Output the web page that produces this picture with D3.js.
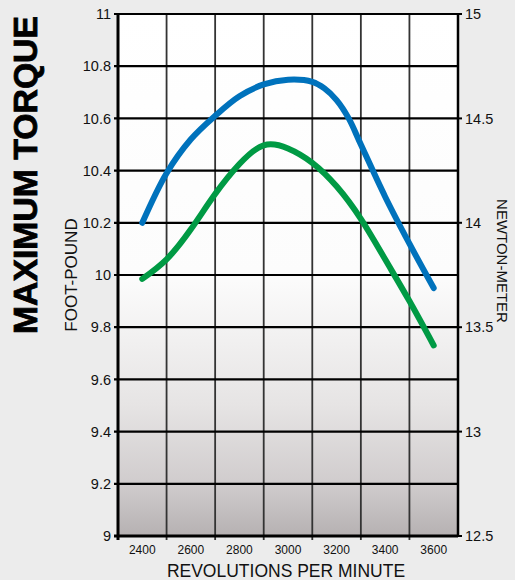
<!DOCTYPE html>
<html><head><meta charset="utf-8">
<script src="https://cdn.jsdelivr.net/npm/d3@7"></script>
<style>html,body{margin:0;padding:0;background:#ececec;}svg{display:block;}</style>
</head><body>
<script>
// ---- data ----
const rpmLabels = [2400, 2600, 2800, 3000, 3200, 3400, 3600];
const rpmGrid = [2300, 2500, 2700, 2900, 3100, 3300, 3500, 3700];
const footPoundTicks = [9, 9.2, 9.4, 9.6, 9.8, 10, 10.2, 10.4, 10.6, 10.8, 11];
const newtonTicks = [12.5, 13, 13.5, 14, 14.5, 15];
const blueRpm = [2400, 2500, 2600, 2700, 2800, 2900, 3000, 3100, 3150, 3200, 3250, 3300, 3400, 3500, 3600];
const blueTorque = [10.20, 10.39, 10.52, 10.61, 10.685, 10.73, 10.748, 10.74, 10.715, 10.67, 10.60, 10.50, 10.30, 10.12, 9.95];
const greenRpm = [2400, 2500, 2600, 2700, 2800, 2900, 3000, 3100, 3200, 3300, 3400, 3500, 3600];
const greenTorque = [9.985, 10.06, 10.175, 10.31, 10.425, 10.497, 10.485, 10.43, 10.34, 10.215, 10.06, 9.90, 9.73];

const W = 515, H = 580;
const L = 118, R = 458, T = 14, B = 536;
const font = "'Liberation Sans', Arial, Helvetica, sans-serif";

const svg = d3.select("body").append("svg").attr("width", W).attr("height", H)
  .style("font-family", font);
svg.append("rect").attr("width", W).attr("height", H).attr("fill", "#ececec");

const x = d3.scaleLinear().domain([2300, 3700]).range([L, R]);
const y = d3.scaleLinear().domain([9, 11]).range([B, T]);
const y2 = d3.scaleLinear().domain([12.5, 15]).range([B, T]);

const defs = svg.append("defs");
const grad = defs.append("linearGradient").attr("id", "bg").attr("x1", 0).attr("y1", 0).attr("x2", 0).attr("y2", 1);
[[0, "#ffffff"], [0.5, "#fcfcfc"], [0.75, "#e6e4e4"], [0.9, "#d0cccd"], [1, "#b6b1b2"]]
  .forEach(([o, c]) => grad.append("stop").attr("offset", o).attr("stop-color", c));

svg.append("rect").attr("x", L).attr("y", T).attr("width", R - L).attr("height", B - T).attr("fill", "url(#bg)");

// vertical grid
svg.append("g").selectAll("line").data(rpmGrid.slice(1, -1)).join("line")
  .attr("x1", d => x(d)).attr("x2", d => x(d)).attr("y1", T).attr("y2", B + 4)
  .attr("stroke", "#333").attr("stroke-width", 1.8);

// horizontal grid
svg.append("g").selectAll("line").data(footPoundTicks).join("line")
  .attr("x1", L - 4).attr("x2", R).attr("y1", d => y(d)).attr("y2", d => y(d))
  .attr("stroke", "#000").attr("stroke-width", d => (d === 9 ? 3 : 2.2));

// left and right frame
svg.append("line").attr("x1", L).attr("x2", L).attr("y1", T - 1).attr("y2", B + 4).attr("stroke", "#000").attr("stroke-width", 3);
svg.append("line").attr("x1", R).attr("x2", R).attr("y1", T - 1).attr("y2", B + 1).attr("stroke", "#000").attr("stroke-width", 2.5);

// right ticks
svg.append("g").selectAll("line").data(newtonTicks).join("line")
  .attr("x1", R).attr("x2", R + 4).attr("y1", d => y2(d)).attr("y2", d => y2(d))
  .attr("stroke", "#000").attr("stroke-width", 2);

// left labels
svg.append("g").selectAll("text").data(footPoundTicks).join("text")
  .attr("x", 111).attr("y", d => y(d)).attr("dy", "0.36em")
  .attr("text-anchor", "end").attr("font-size", 14.5).attr("fill", "#111")
  .text(d => String(+d.toFixed(1)));

// right labels
svg.append("g").selectAll("text").data(newtonTicks).join("text")
  .attr("x", 465).attr("y", d => y2(d)).attr("dy", "0.36em")
  .attr("text-anchor", "start").attr("font-size", 14.5).attr("fill", "#111")
  .text(d => String(d));

// bottom labels
svg.append("g").selectAll("text").data(rpmLabels).join("text")
  .attr("x", d => x(d)).attr("y", 554)
  .attr("text-anchor", "middle").attr("font-size", 12).attr("fill", "#111")
  .text(d => d);

// curves
const greenLine = d3.line().curve(d3.curveNatural);
const blueLine = d3.line().curve(d3.curveCatmullRom.alpha(0.5));
svg.append("path")
  .attr("d", greenLine(greenRpm.map((r, i) => [x(r), y(greenTorque[i])])))
  .attr("fill", "none").attr("stroke", "#009a44").attr("stroke-width", 6).attr("stroke-linecap", "round");
svg.append("path")
  .attr("d", blueLine(blueRpm.map((r, i) => [x(r), y(blueTorque[i])])))
  .attr("fill", "none").attr("stroke", "#0072bc").attr("stroke-width", 6).attr("stroke-linecap", "round");

// titles
svg.append("text").attr("transform", "translate(37,175) rotate(-90)")
  .attr("text-anchor", "middle").attr("font-size", 33).attr("font-weight", "bold")
  .attr("fill", "#000").attr("stroke", "#000").attr("stroke-width", 0.8)
  .attr("textLength", 318).attr("lengthAdjust", "spacingAndGlyphs")
  .text("MAXIMUM TORQUE");
svg.append("text").attr("transform", "translate(77,275) rotate(-90)")
  .attr("text-anchor", "middle").attr("font-size", 17).attr("fill", "#111")
  .text("FOOT-POUND");
svg.append("text").attr("transform", "translate(497,261) rotate(90)")
  .attr("text-anchor", "middle").attr("font-size", 15).attr("fill", "#111")
  .text("NEWTON-METER");
svg.append("text").attr("x", 286).attr("y", 577)
  .attr("text-anchor", "middle").attr("font-size", 17.5).attr("fill", "#111")
  .text("REVOLUTIONS PER MINUTE");
</script>
</body></html>
